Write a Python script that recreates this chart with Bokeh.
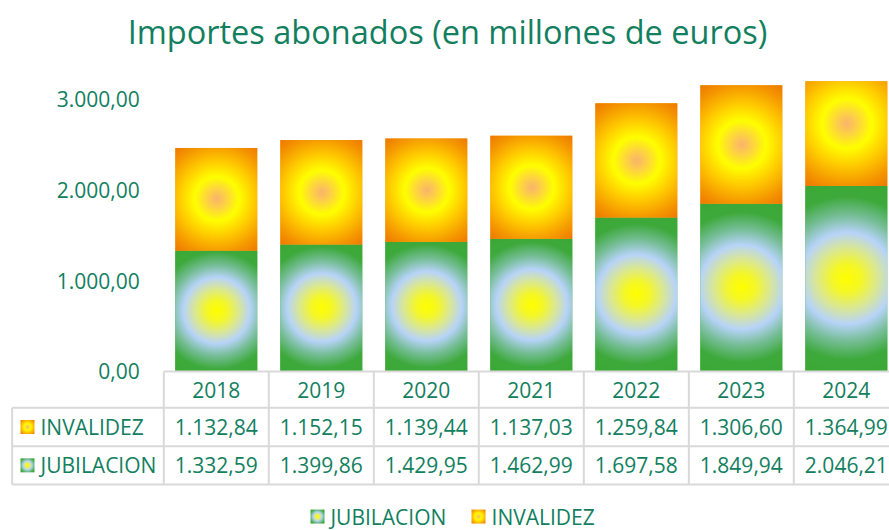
import numpy as np
from bokeh.plotting import figure
from bokeh.models import Range1d
from bokeh.core.properties import value
from bokeh.embed import file_html
from bokeh.resources import INLINE

# ---------------- data ----------------
years = [2018, 2019, 2020, 2021, 2022, 2023, 2024]
invalidez = [1132.84, 1152.15, 1139.44, 1137.03, 1259.84, 1306.60, 1364.99]
jubilacion = [1332.59, 1399.86, 1429.95, 1462.99, 1697.58, 1849.94, 2046.21]
series_names = ["JUBILACION", "INVALIDEZ"]
yticks = [0, 1000, 2000, 3000]
y_axis_max = 3200
title_text = "Importes abonados (en millones de euros)"

# ---------------- style ----------------
TXT = "#12805f"
GRID = "#d9d9d9"
FONT = "Open Sans"
FS = "21px"
BAR_W = 0.78

W, H = 889, 530
X0, X1 = 2015.945, 2024.411
Y0, Y1 = -1753.7, 4091.9
PX_X = W / (X1 - X0)
PX_Y = H / (Y1 - Y0)

GREEN_STOPS = [
    (0.00, (255, 255, 0)),
    (0.14, (245, 248, 40)),
    (0.30, (218, 232, 150)),
    (0.45, (184, 212, 250)),
    (0.62, (118, 190, 150)),
    (0.80, (62, 170, 60)),
    (1.00, (58, 168, 53)),
]
ORANGE_STOPS = [
    (0.00, (250, 180, 110)),
    (0.14, (253, 210, 70)),
    (0.33, (255, 255, 0)),
    (0.58, (255, 200, 0)),
    (0.82, (245, 150, 0)),
    (1.00, (238, 120, 0)),
]


def grad_img(wpx, hpx, stops):
    wpx = max(int(round(wpx)), 2)
    hpx = max(int(round(hpx)), 2)
    yy, xx = np.mgrid[0:hpx, 0:wpx].astype(float) + 0.5
    cx, cy = wpx / 2.0, hpx / 2.0
    r = np.hypot(xx - cx, yy - cy) / np.hypot(cx, cy)
    pos = [s[0] for s in stops]
    img = np.empty((hpx, wpx), dtype=np.uint32)
    view = img.view(dtype=np.uint8).reshape((hpx, wpx, 4))
    for c in range(3):
        view[:, :, c] = np.interp(r, pos, [s[1][c] for s in stops]).astype(np.uint8)
    view[:, :, 3] = 255
    return img


def fmt(v):
    s = f"{v:,.2f}"
    return s.replace(",", "X").replace(".", ",").replace("X", ".")


p = figure(width=W, height=H, output_backend="svg", toolbar_location=None,
           x_range=Range1d(X0, X1), y_range=Range1d(Y0, Y1),
           x_axis_type=None, y_axis_type=None,
           min_border=0, outline_line_color=None,
           background_fill_color="white", border_fill_color="white")
p.grid.visible = False

# ---------------- title ----------------
p.text(x=[2020.202], y=[3750], text=[title_text], text_align="center",
       text_baseline="alphabetic", text_color=TXT,
       text_font=value(FONT), text_font_size=value("32.5px"))

# ---------------- bars (clipped at the axis maximum) ----------------
jub_top = [min(j, y_axis_max) for j in jubilacion]
inv_top = [min(j + i, y_axis_max) for j, i in zip(jubilacion, invalidez)]
p.vbar(x=years, bottom=0, top=jub_top, width=BAR_W, fill_color="#3aa835", line_color=None)
p.vbar(x=years, bottom=jubilacion, top=inv_top, width=BAR_W, fill_color="#f5a000", line_color=None)

imgs, xs, ys, dws, dhs = [], [], [], [], []


def add_bar(xc, bottom, height, stops):
    full = grad_img(BAR_W * PX_X, height * PX_Y, stops)
    vis_top = min(bottom + height, y_axis_max)
    nrows = max(int(round((vis_top - bottom) * PX_Y)), 1)
    img = np.ascontiguousarray(full[:nrows, :])
    imgs.append(img)
    xs.append(xc - BAR_W / 2); ys.append(bottom)
    dws.append(BAR_W); dhs.append(vis_top - bottom)


for yr, j, inv in zip(years, jubilacion, invalidez):
    add_bar(yr, 0, j, GREEN_STOPS)
    add_bar(yr, j, inv, ORANGE_STOPS)
p.image_rgba(image=imgs, x=xs, y=ys, dw=dws, dh=dhs)

# ---------------- y tick labels ----------------
p.text(x=[2017.271] * len(yticks), y=yticks, text=[fmt(t) for t in yticks],
       text_align="right", text_baseline="middle", text_color=TXT,
       text_font=value(FONT), text_font_size=value(FS))

# ---------------- data table ----------------
ROW1, ROW2, ROW3 = -400.0, -824.0, -1246.0
LEFT = 2016.056
c0 = years[0] - 0.5
cols = [c0 + k for k in range(len(years) + 1)]
right = X1 + 1
hx0 = [c0, LEFT, LEFT, LEFT]
hx1 = [right] * 4
hy = [0, ROW1, ROW2, ROW3]
p.segment(x0=hx0, y0=hy, x1=hx1, y1=hy, line_color=GRID, line_width=2)
vx = cols + [LEFT]
vy0 = [0] * len(cols) + [ROW1]
vy1 = [ROW3] * len(vx)
p.segment(x0=vx, y0=vy0, x1=vx, y1=vy1, line_color=GRID, line_width=2)

p.text(x=years, y=[(0 + ROW1) / 2] * len(years), text=[str(y) for y in years],
       text_align="center", text_baseline="middle", text_color=TXT,
       text_font=value(FONT), text_font_size=value(FS))
p.text(x=years, y=[(ROW1 + ROW2) / 2] * len(years), text=[fmt(v) for v in invalidez],
       text_align="center", text_baseline="middle", text_color=TXT,
       text_font=value(FONT), text_font_size=value(FS))
p.text(x=years, y=[(ROW2 + ROW3) / 2] * len(years), text=[fmt(v) for v in jubilacion],
       text_align="center", text_baseline="middle", text_color=TXT,
       text_font=value(FONT), text_font_size=value(FS))

SQ_W = 14 / PX_X
SQ_H = 14 / PX_Y
row_lab_x = 2016.326
sq_cx = 2016.202
p.text(x=[row_lab_x, row_lab_x], y=[(ROW1 + ROW2) / 2, (ROW2 + ROW3) / 2],
       text=[series_names[1], series_names[0]],
       text_align="left", text_baseline="middle", text_color=TXT,
       text_font=value(FONT), text_font_size=value(FS))

# ---------------- legend ----------------
LEG_Y = -1600.0
leg_sq_x = [2018.964, 2020.497]
leg_tx_x = [2019.087, 2020.621]
p.text(x=leg_tx_x, y=[LEG_Y, LEG_Y], text=series_names,
       text_align="left", text_baseline="middle", text_color=TXT,
       text_font=value(FONT), text_font_size=value(FS))

sq_imgs = [grad_img(14, 14, GREEN_STOPS), grad_img(14, 14, ORANGE_STOPS),
           grad_img(14, 14, ORANGE_STOPS), grad_img(14, 14, GREEN_STOPS)]
sq_x = [leg_sq_x[0] - SQ_W / 2, leg_sq_x[1] - SQ_W / 2, sq_cx - SQ_W / 2, sq_cx - SQ_W / 2]
sq_y = [LEG_Y - SQ_H / 2, LEG_Y - SQ_H / 2,
        (ROW1 + ROW2) / 2 - SQ_H / 2, (ROW2 + ROW3) / 2 - SQ_H / 2]
p.image_rgba(image=sq_imgs, x=sq_x, y=sq_y, dw=[SQ_W] * 4, dh=[SQ_H] * 4)

open("out.html", "w").write(file_html(p, INLINE))
